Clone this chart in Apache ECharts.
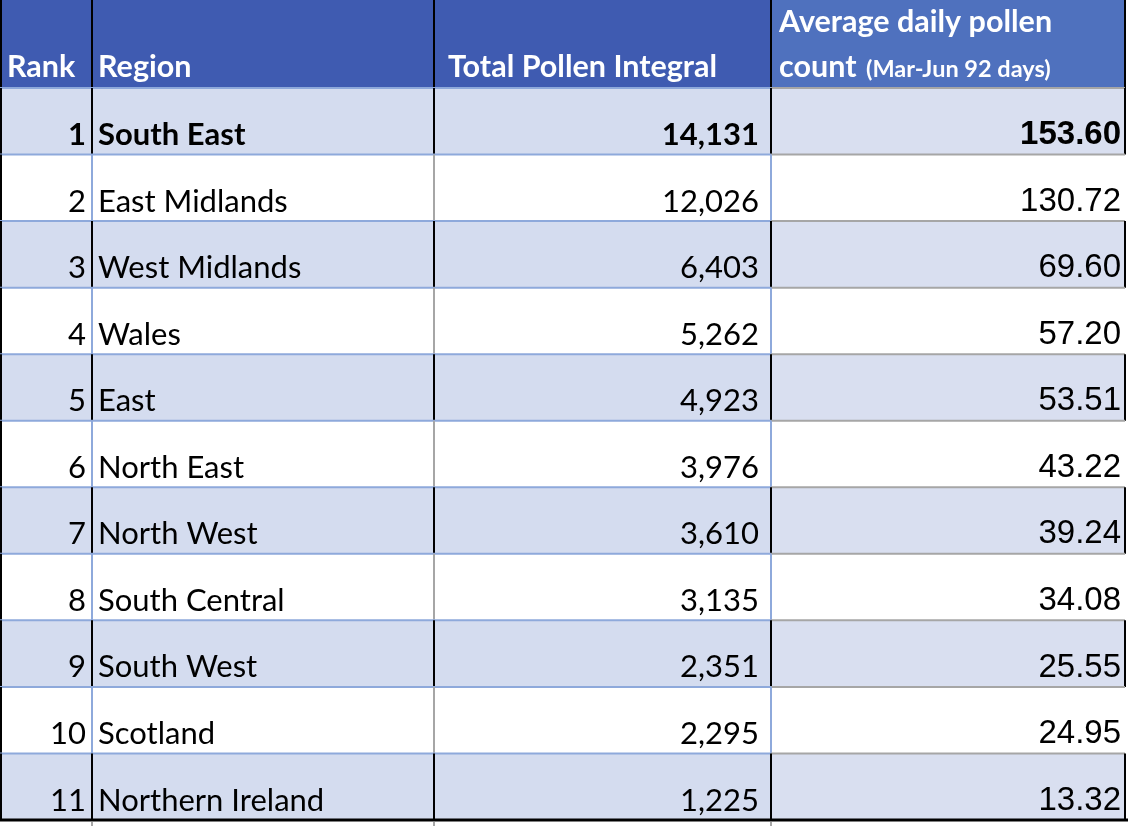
<!DOCTYPE html>
<html>
<head>
<meta charset="utf-8">
<script src="https://cdn.jsdelivr.net/npm/echarts@6/dist/echarts.min.js"></script>
<style>
html,body{margin:0;padding:0;background:#fff;}
#main{width:1128px;height:826px;}
</style>
</head>
<body>
<div id="main"></div>
<script>
// ---- data ----
const ranks = [1, 2, 3, 4, 5, 6, 7, 8, 9, 10, 11];
const regions = ['South East', 'East Midlands', 'West Midlands', 'Wales', 'East', 'North East',
  'North West', 'South Central', 'South West', 'Scotland', 'Northern Ireland'];
const totals = [14131, 12026, 6403, 5262, 4923, 3976, 3610, 3135, 2351, 2295, 1225];
const averages = [153.60, 130.72, 69.60, 57.20, 53.51, 43.22, 39.24, 34.08, 25.55, 24.95, 13.32];
const headerLabels = ['Rank', 'Region', 'Total Pollen Integral', 'Average daily pollen', 'count', '(Mar-Jun 92 days)'];

// ---- layout (column edges in axis units) ----
const colEdges = [0, 92, 434, 771, 1125];

const FONT_C = 'Lato, "Open Sans", sans-serif';
const FONT_A = '"Liberation Sans", Arial, sans-serif';
const LBLUE = '#8EA9DB';
const GRAY = '#A6A6A6';
const BLACK = '#000000';

function line(x1, y1, x2, y2, color, w) {
  return { type: 'line', shape: { x1, y1, x2, y2 }, style: { stroke: color, lineWidth: w } };
}
function txt(x, y, text, align, font, fill, vAlign) {
  return { type: 'text', style: { x, y, text, textAlign: align, textVerticalAlign: vAlign || 'bottom', font, fill } };
}

function renderHeader(params, api) {
  const c = api.coord([0, 0]);
  const h = api.size([0, 1])[1];
  const top = c[1] - h / 2, bottom = c[1] + h / 2;
  const X = colEdges.map(e => api.coord([e, 0])[0]);
  const ch = [];
  ch.push({ type: 'rect', shape: { x: X[0], y: top, width: X[3] - X[0], height: h }, style: { fill: '#3F5BB1' } });
  ch.push({ type: 'rect', shape: { x: X[3], y: top, width: X[4] - X[3], height: h }, style: { fill: '#4F71BE' } });
  [0, 1, 2, 3, 4].forEach(k => ch.push(line(X[k] + (k === 0 ? 1 : 0), top, X[k] + (k === 0 ? 1 : 0), bottom, BLACK, 2)));
  const f = 'bold 30.5px ' + FONT_C;
  const base = bottom - 5;
  ch.push(txt(X[0] + 7, base, headerLabels[0], 'left', f, '#fff'));
  ch.push(txt(X[1] + 6, base, headerLabels[1], 'left', f, '#fff'));
  ch.push(txt(X[2] + 14, base, headerLabels[2], 'left', f, '#fff'));
  ch.push(txt(X[3] + 8, base - 45, headerLabels[3], 'left', f, '#fff'));
  ch.push(txt(X[3] + 8, base, headerLabels[4], 'left', f, '#fff'));
  ch.push(txt(X[3] + 95, base - 2, headerLabels[5], 'left', 'bold 23.5px ' + FONT_C, '#fff'));
  return { type: 'group', children: ch };
}

function renderBody(params, api) {
  const i = params.dataIndex;
  const c = api.coord([0, i]);
  const h = api.size([0, 1])[1];
  const top = c[1] - h / 2, bottom = c[1] + h / 2;
  const X = colEdges.map(e => api.coord([e, i])[0]);
  const shaded = i % 2 === 0;
  const bold = i === 0 ? 'bold ' : '';
  const ch = [];
  if (shaded) {
    ch.push({ type: 'rect', shape: { x: X[0], y: top, width: X[3] - X[0], height: h }, style: { fill: '#D4DCEF' } });
    ch.push({ type: 'rect', shape: { x: X[3], y: top, width: X[4] - X[3], height: h }, style: { fill: '#D9DFF0' } });
  }
  // top border of each row
  ch.push(line(X[0], top, X[3], top, LBLUE, 2));
  ch.push(line(X[3], top, X[4], top, GRAY, 2));
  // vertical borders
  ch.push(line(X[0] + 1, top, X[0] + 1, bottom, BLACK, 2));
  ch.push(line(X[1], top, X[1], bottom, shaded ? BLACK : LBLUE, 2));
  ch.push(line(X[2], top, X[2], bottom, shaded ? BLACK : GRAY, 2));
  ch.push(line(X[3], top, X[3], bottom, shaded ? BLACK : LBLUE, 2));
  if (shaded) ch.push(line(X[4], top, X[4], bottom, BLACK, 2));
  const fC = bold + '31px ' + FONT_C;
  const fA = bold + '33px ' + FONT_A;
  const base = bottom - 4;
  ch.push(txt(X[1] - 6, base, String(api.value(1)), 'right', fC, '#000'));
  ch.push(txt(X[1] + 6, base, regions[i], 'left', fC, '#000'));
  ch.push(txt(X[3] - 12, base, Number(api.value(3)).toLocaleString('en-US'), 'right', fC, '#000'));
  ch.push(txt(X[4] - 4, base + 1, Number(api.value(4)).toFixed(2), 'right', fA, '#000'));
  if (i === ranks.length - 1) {
    ch.push(line(X[0], bottom, 1128, bottom, BLACK, 3));
    [1, 2, 3].forEach(k => ch.push(line(X[k], bottom + 2, X[k], bottom + 6, GRAY, 2)));
  }
  return { type: 'group', children: ch };
}

const bodyData = ranks.map((r, i) => [i, r, regions[i], totals[i], averages[i]]);

const chart = echarts.init(document.getElementById('main'), null, { renderer: 'canvas' });
chart.setOption({
  animation: false,
  grid: [
    { left: 0, right: 0, top: 0, height: 88 },
    { left: 0, right: 0, top: 88, height: 732 }
  ],
  xAxis: [
    { type: 'value', gridIndex: 0, min: 0, max: 1128, show: false },
    { type: 'value', gridIndex: 1, min: 0, max: 1128, show: false }
  ],
  yAxis: [
    { type: 'category', gridIndex: 0, data: ['header'], show: false },
    { type: 'category', gridIndex: 1, data: ranks.map(String), inverse: true, show: false }
  ],
  series: [
    {
      type: 'custom', xAxisIndex: 0, yAxisIndex: 0, renderItem: renderHeader,
      data: [[0, 0]], encode: { x: 0, y: 1 }, silent: true, clip: false
    },
    {
      type: 'custom', xAxisIndex: 1, yAxisIndex: 1, renderItem: renderBody,
      data: bodyData, encode: { x: 1, y: 0 }, silent: true, clip: false
    }
  ]
});
</script>
</body>
</html>
